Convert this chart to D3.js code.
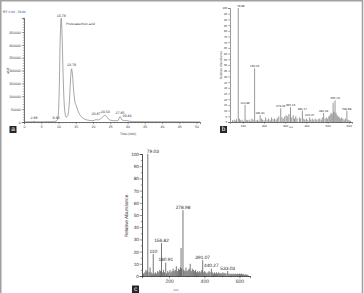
<!DOCTYPE html>
<html><head><meta charset="utf-8">
<script src="https://cdn.jsdelivr.net/npm/d3@7"></script>
<style>
body{margin:0;background:#fff;}
svg{display:block;font-family:"Liberation Sans",Arial,sans-serif;text-rendering:geometricPrecision;-webkit-font-smoothing:antialiased;}
</style></head><body>
<script>
// chromatogram (panel a)
const chromTime = [0, 2, 2.88, 3.5, 6, 8, 9.3, 9.8, 10.2, 10.5, 10.78, 11.0, 11.3, 11.7, 12.2, 12.7, 13.2, 13.5, 13.78, 14.0, 14.4, 14.8, 15.2, 15.6, 16.2, 17, 18, 19, 20, 20.87, 21.5, 22.3, 23.0, 23.53, 24.0, 24.8, 26, 27.2, 27.85, 28.4, 29.2, 29.84, 30.5, 32, 35, 40, 45, 50, 51];
const chromValue = [500, 800, 2500, 700, 900, 1500, 3500, 12000, 120000, 330000, 404000, 350000, 200000, 60000, 19000, 25000, 90000, 170000, 207000, 190000, 120000, 75000, 62000, 45000, 28000, 16000, 9000, 6000, 5000, 9000, 8000, 14000, 22000, 26000, 20000, 8000, 5000, 5000, 21000, 8000, 5000, 5500, 3000, 1500, 1200, 900, 700, 600, 500];
const chromPeaks = ["2.88", "9.30", "10.78", "13.78", "20.87", "23.53", "27.85", "29.84"];
const chromPeakHeight = [6000, 6000, 404000, 212000, 22000, 30000, 24000, 12000];

// mass spectrum (panel b)
const specBLabels = ["78.98", "110.98", "156.03", "181.91", "279.03", "325.13", "381.17", "415.47", "481.19", "535.13", "590.89"];
const specBMz = [78.98, 110.98, 156.03, 181.91, 279.03, 325.13, 381.17, 415.47, 481.19, 535.13, 590.89];
const specBInt = [100, 15, 47, 6, 12, 13, 10, 4, 8, 19, 10];
const minorBMz = [52, 60, 66, 71, 85, 90, 97, 104, 117, 123, 130, 136, 143, 149, 163, 170, 176, 188, 194, 201, 208, 215, 222, 229, 236, 243, 250, 257, 263, 270, 285, 291, 298, 305, 312, 318, 331, 338, 344, 350, 356, 367, 373, 388, 393, 400, 407, 421, 428, 435, 442, 449, 456, 463, 470, 475, 488, 494, 500, 506, 511, 516, 521, 526, 530, 540, 545, 550, 555, 560, 566, 572, 578, 584, 596, 602, 608];
const minorBInt = [1.5, 2, 1, 2.5, 3, 1.5, 2, 1, 2, 1.5, 2, 1, 3, 2, 1.5, 2, 1, 3, 2, 1.5, 4, 2, 3, 2, 4, 2.5, 3, 2, 3.5, 5, 4, 3, 5, 6, 5, 7, 4, 6, 3, 5, 3, 4, 3, 3, 2, 3, 2, 2, 3, 2, 3, 2, 2.5, 3, 2, 4, 3, 4, 3, 5, 6, 8, 7, 17, 9, 8, 6, 5, 4, 3, 4, 3, 2, 3, 2, 1.5, 1];

// mass spectrum (panel c)
const specCLabels = ["79.03", "110", "156.82", "180.91", "278.98", "391.07", "440.27", "533.03"];
const specCMz = [79.03, 110, 156.82, 180.91, 278.98, 391.07, 440.27, 533.03];
const specCInt = [100, 18, 27, 11, 54, 13, 6, 4];
const minorCMz = [55, 62, 68, 74, 86, 92, 98, 104, 116, 122, 128, 135, 141, 147, 152, 162, 168, 174, 186, 192, 198, 205, 211, 217, 223, 229, 235, 241, 247, 253, 259, 264, 268, 272, 284, 290, 296, 302, 308, 314, 320, 326, 332, 338, 344, 350, 356, 362, 368, 374, 380, 386, 397, 403, 409, 415, 421, 427, 433, 446, 452, 458, 464, 470, 476, 482, 488, 494, 500, 506, 512, 518, 524, 540, 546, 552, 558, 564, 570, 576, 582, 588, 594, 600, 606, 612, 618, 624, 630, 636, 642, 648];
const minorCInt = [2, 3, 5, 4, 3, 7, 3, 2, 2, 3, 2, 4, 3, 5, 4, 3, 5, 3, 2, 4, 3, 5, 3, 4, 6, 4, 5, 8, 4, 6, 5, 7, 23, 6, 5, 4, 7, 4, 5, 6, 10, 4, 6, 5, 4, 5, 3, 4, 3, 4, 3, 5, 3, 4, 3, 2, 3, 4, 3, 3, 2, 3, 2, 3, 2, 3, 2, 2.5, 2, 3, 2, 2.5, 2, 2, 1.5, 2, 1.5, 2, 1.5, 2, 1.5, 2, 1.5, 2, 1.5, 2, 1.5, 1.5, 1, 1.5, 1, 1];

const svg = d3.select("body").append("svg")
    .attr("width", 364)
    .attr("height", 293);

// outer frame
svg.append("path")
    .attr("d", "M0.75,293V0.75H362.5V293")
    .attr("fill", "none")
    .attr("stroke", "#a0a0a0")
    .attr("stroke-width", 1.5);

function styleAxis(g, size, color) {
    g.select(".domain").attr("stroke", color).attr("stroke-width", 0.6);
    g.selectAll(".tick line").attr("stroke", color).attr("stroke-width", 0.5);
    g.selectAll(".tick text").attr("fill", "#333").style("font-size", size + "px")
        .style("font-family", "'Liberation Sans', Arial, sans-serif");
}

function letterBox(x, y, w, h, letter) {
    svg.append("rect").attr("x", x).attr("y", y).attr("width", w).attr("height", h).attr("fill", "#262626");
    svg.append("text").attr("x", x + w / 2).attr("y", y + h - 1.6)
        .attr("text-anchor", "middle").attr("fill", "#fff")
        .style("font-size", "6.5px").text(letter);
}

// ---------- panel a ----------
const xA = d3.scaleLinear().domain([0, 51]).range([24, 200]);
const yA = d3.scaleLinear().domain([0, 405000]).range([122, 17.9]);

const gA = svg.append("g");
gA.append("g")
    .attr("transform", "translate(0,122)")
    .call(d3.axisBottom(xA).tickValues(d3.range(0, 51, 1)).tickSize(1.2).tickFormat(""))
    .call(g => styleAxis(g, 3.5, "#555"));
gA.append("g")
    .attr("transform", "translate(0,122)")
    .call(d3.axisBottom(xA).tickValues(d3.range(0, 55, 5)).tickSize(2.2).tickPadding(1).tickFormat(d3.format("d")))
    .call(g => styleAxis(g, 3.5, "#555"));
gA.append("g")
    .attr("transform", "translate(24,0)")
    .call(d3.axisLeft(yA).tickValues(d3.range(0, 405000, 10000)).tickSize(1.2).tickFormat(""))
    .call(g => styleAxis(g, 3.5, "#555"));
gA.append("g")
    .attr("transform", "translate(24,0)")
    .call(d3.axisLeft(yA).tickValues(d3.range(0, 400000, 50000)).tickSize(2.2).tickPadding(1).tickFormat(d3.format("d")))
    .call(g => styleAxis(g, 3.5, "#555"));

const chrom = chromTime.map((t, i) => [t, chromValue[i]]);
gA.append("path")
    .datum(chrom)
    .attr("fill", "none")
    .attr("stroke", "#6a6a6a")
    .attr("stroke-width", 0.6)
    .attr("d", d3.line().x(d => xA(d[0])).y(d => yA(d[1])).curve(d3.curveMonotoneX));

gA.selectAll(".plab")
    .data(chromPeaks)
    .join("text")
    .attr("x", d => xA(+d))
    .attr("y", (d, i) => yA(chromPeakHeight[i]) - 1.5)
    .attr("text-anchor", "middle")
    .attr("fill", "#333")
    .style("font-size", "3.6px")
    .text(d => d);

gA.append("text").attr("x", 66).attr("y", 25).attr("fill", "#333")
    .style("font-size", "3.3px").text("Protocatechuic acid");

const rt = gA.append("text").attr("x", 3).attr("y", 12.5).style("font-size", "3.2px").attr("fill", "#222");
rt.append("tspan").text("RT: ");
rt.append("tspan").attr("fill", "#3a55b0").text("0.00 - 59.98");

gA.append("text").attr("x", 128).attr("y", 135).attr("text-anchor", "middle").attr("fill", "#333")
    .style("font-size", "3.4px").text("Time (min)");
gA.append("text").attr("transform", "translate(8.5,71) rotate(-90)").attr("text-anchor", "middle").attr("fill", "#333")
    .style("font-size", "3.4px").text("uAU");

letterBox(9.5, 126, 7, 7, "a");

// ---------- panel b ----------
const xB = d3.scaleLinear().domain([40, 615]).range([230, 352]);
const yB = d3.scaleLinear().domain([0, 100]).range([122, 8]);

const gB = svg.append("g");
gB.append("g")
    .attr("transform", "translate(0,122)")
    .call(d3.axisBottom(xB).tickValues(d3.range(50, 620, 10)).tickSize(1).tickFormat(""))
    .call(g => styleAxis(g, 3, "#555"));
gB.append("g")
    .attr("transform", "translate(0,122)")
    .call(d3.axisBottom(xB).tickValues(d3.range(100, 700, 100)).tickSize(1.8).tickPadding(1).tickFormat(d3.format("d")))
    .call(g => styleAxis(g, 3, "#555"));
gB.append("g")
    .attr("transform", "translate(230,0)")
    .call(d3.axisLeft(yB).tickValues(d3.range(0, 105, 5)).tickSize(1.8).tickPadding(1).tickFormat(d3.format("d")))
    .call(g => styleAxis(g, 2.9, "#555"));

const peaksB = minorBMz.map((m, i) => [m, minorBInt[i]]).concat(specBMz.map((m, i) => [m, specBInt[i]]));
gB.selectAll(".pk")
    .data(peaksB)
    .join("line")
    .attr("x1", d => xB(d[0])).attr("x2", d => xB(d[0]))
    .attr("y1", yB(0)).attr("y2", d => yB(d[1]))
    .attr("stroke", "#444").attr("stroke-width", 0.55);

gB.selectAll(".lab")
    .data(specBLabels)
    .join("text")
    .attr("x", (d, i) => xB(specBMz[i]) + (i === 0 ? 2.5 : 0))
    .attr("y", (d, i) => yB(specBInt[i]) - 1)
    .attr("text-anchor", "middle")
    .attr("fill", "#333")
    .style("font-size", "3px")
    .text(d => d);

gB.append("text").attr("transform", "translate(222,65) rotate(-90)").attr("text-anchor", "middle").attr("fill", "#333")
    .style("font-size", "3.2px").text("Relative Abundance");
gB.append("text").attr("x", 291).attr("y", 128).attr("text-anchor", "middle").attr("fill", "#333")
    .style("font-size", "2.6px").text("m/z");

letterBox(220, 126, 7, 7, "b");

// ---------- panel c ----------
const xC = d3.scaleLinear().domain([46, 660]).range([142, 250]);
const yC = d3.scaleLinear().domain([0, 100]).range([276, 154]);

const gC = svg.append("g");
gC.append("g")
    .attr("transform", "translate(0,276)")
    .call(d3.axisBottom(xC).tickValues(d3.range(50, 660, 50)).tickSize(1.2).tickFormat(""))
    .call(g => styleAxis(g, 5, "#333"));
gC.append("g")
    .attr("transform", "translate(0,276)")
    .call(d3.axisBottom(xC).tickValues([200, 400, 600]).tickSize(2.2).tickPadding(1).tickFormat(d3.format("d")))
    .call(g => styleAxis(g, 5, "#333"));
gC.append("g")
    .attr("transform", "translate(142,0)")
    .call(d3.axisLeft(yC).tickValues(d3.range(5, 100, 10)).tickSize(1.2).tickFormat(""))
    .call(g => styleAxis(g, 4.6, "#333"));
gC.append("g")
    .attr("transform", "translate(142,0)")
    .call(d3.axisLeft(yC).tickValues(d3.range(0, 110, 10)).tickSize(2.4).tickPadding(0.8).tickFormat(d3.format("d")))
    .call(g => styleAxis(g, 4.6, "#333"));

const peaksC = minorCMz.map((m, i) => [m, minorCInt[i]]).concat(specCMz.map((m, i) => [m, specCInt[i]]));
gC.selectAll(".pk")
    .data(peaksC)
    .join("line")
    .attr("x1", d => xC(d[0])).attr("x2", d => xC(d[0]))
    .attr("y1", yC(0)).attr("y2", d => yC(d[1]))
    .attr("stroke", "#1a1a1a").attr("stroke-width", 0.6);

gC.selectAll(".lab")
    .data(specCLabels)
    .join("text")
    .attr("x", (d, i) => xC(specCMz[i]) + (i === 0 ? 5 : 0))
    .attr("y", (d, i) => yC(specCInt[i]) - 1.5)
    .attr("text-anchor", "middle")
    .attr("fill", "#222")
    .style("font-size", "4.8px")
    .text(d => d);

gC.append("text").attr("transform", "translate(128,216) rotate(-90)").attr("text-anchor", "middle").attr("fill", "#333")
    .style("font-size", "4.8px").text("Relative Abundance");
gC.append("text").attr("x", 176).attr("y", 291).attr("text-anchor", "middle").attr("fill", "#333")
    .style("font-size", "3px").text("m/z");

letterBox(132, 285.5, 7, 7.5, "c");
</script>
</body></html>
